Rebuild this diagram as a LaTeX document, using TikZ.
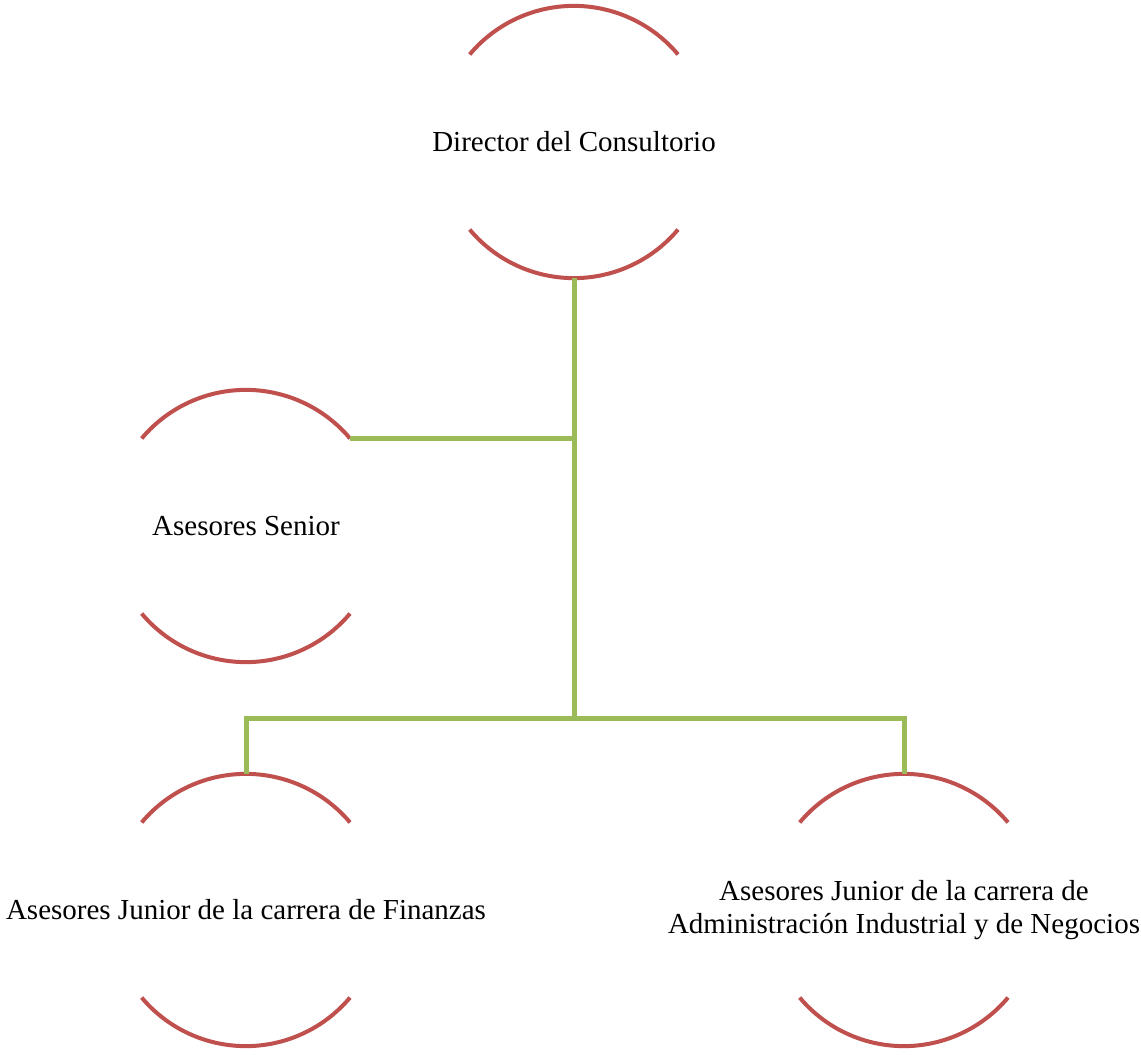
\documentclass[tikz,border=0pt]{standalone}
\usepackage{fontspec}
\setmainfont{Liberation Serif}
\definecolor{arcred}{HTML}{C0504D}
\definecolor{linkgreen}{HTML}{9BBB59}
\begin{document}
\begin{tikzpicture}[x=1pt,y=-1pt,
  role/.style={circle,minimum size=272pt,inner sep=0pt},
  roletext/.style={inner sep=0pt,align=center,
    font=\fontsize{29}{33.5}\selectfont},
  rim/.style={draw=arcred,line width=4pt},
  link/.style={draw=linkgreen,line width=5pt}]
\useasboundingbox[fill=white] (0,0) rectangle (1141,1055);
\node[role] (dir) at (574,142) {};
\node[role] (sen) at (246,526) {};
\node[role] (fin) at (246,910) {};
\node[role] (adm) at (904,910) {};
\node[roletext] (dirT) at (dir.center) {Director del Consultorio};
\node[roletext] (senT) at (sen.center) {Asesores Senior};
\node[roletext] (finT) at (fin.center) {Asesores Junior de la carrera de Finanzas};
\node[roletext] (admT) at (adm.center) {Asesores Junior de la carrera de\\Administración Industrial y de Negocios};
\foreach \n in {dir,sen,fin,adm}{
  \draw[rim] (\n.140) arc[start angle=140,end angle=40,radius=136pt];
  \draw[rim] (\n.220) arc[start angle=220,end angle=320,radius=136pt];
}
\coordinate (hub) at (dir.south |- 0,718);
\coordinate (mid) at (dir.south |- sen.40);
\draw[link] (dir.south) -- (hub);
\draw[link] (sen.40) -- (mid);
\draw[link] (fin.north) -- (fin.north |- hub) -- (adm.north |- hub) -- (adm.north);
\end{tikzpicture}
\end{document}
